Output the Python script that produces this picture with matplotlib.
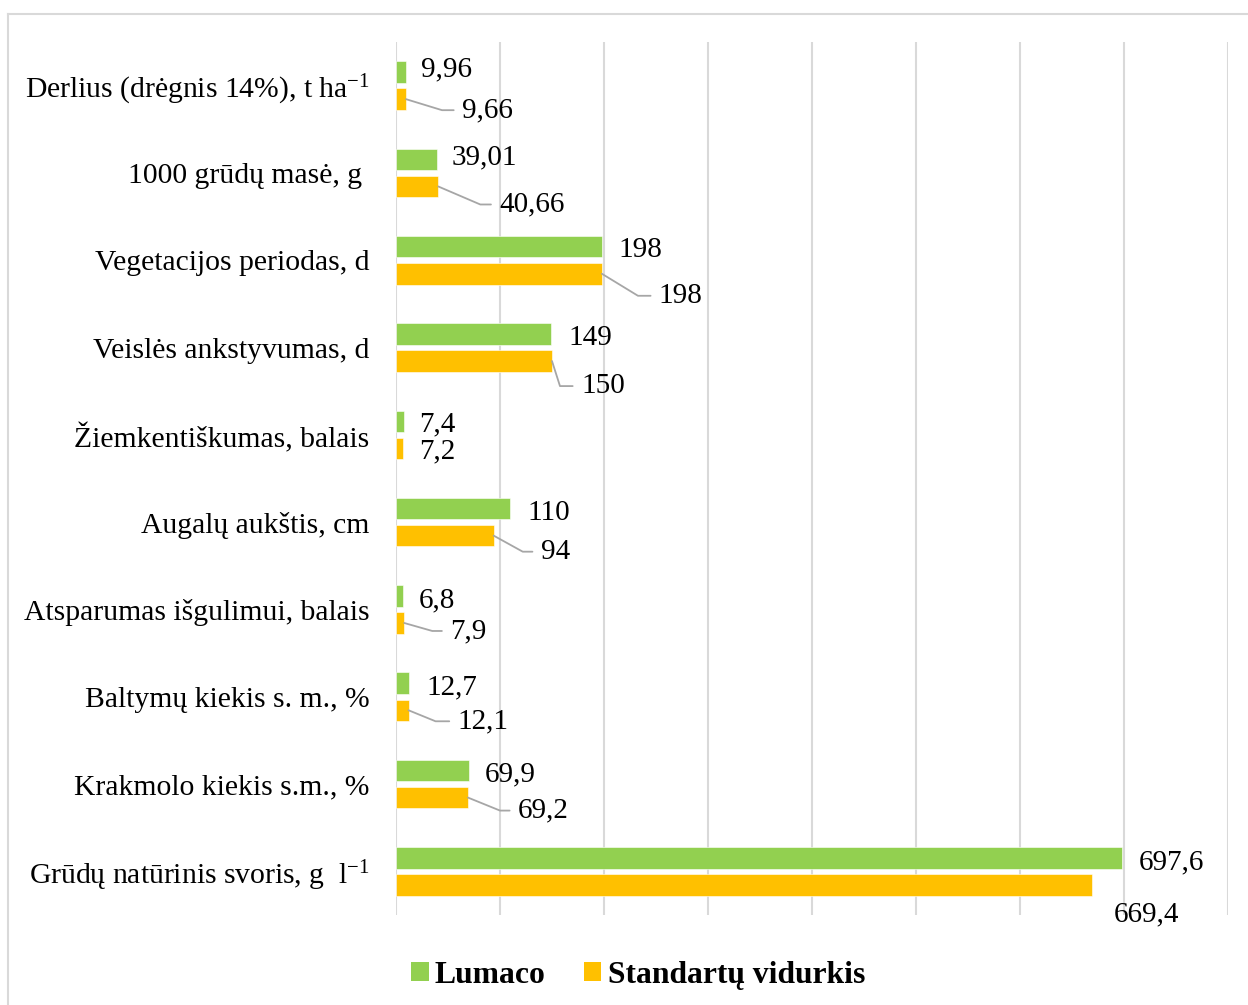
import math
import matplotlib
matplotlib.use("Agg")
import matplotlib.pyplot as plt
from matplotlib.patches import Patch
from matplotlib.lines import Line2D

plt.rcParams['font.family'] = ['Liberation Serif', 'DejaVu Serif']
plt.rcParams['mathtext.fontset'] = 'custom'
plt.rcParams['mathtext.rm'] = 'Liberation Serif'
plt.rcParams['mathtext.default'] = 'regular'

# data (top to bottom)
categories = [
    "Derlius (drėgnis 14%), t ha$^{\u2212 1}$",
    "1000 grūdų masė, g ",
    "Vegetacijos periodas, d",
    "Veislės ankstyvumas, d",
    "Žiemkentiškumas, balais",
    "Augalų aukštis, cm",
    "Atsparumas išgulimui, balais",
    "Baltymų kiekis s. m., %",
    "Krakmolo kiekis s.m., %",
    "Grūdų natūrinis svoris, g  l$^{\u2212 1}$",
]
lumaco = [9.96, 39.01, 198, 149, 7.4, 110, 6.8, 12.7, 69.9, 697.6]
standartai = [9.66, 40.66, 198, 150, 7.2, 94, 7.9, 12.1, 69.2, 669.4]
lumaco_txt = ["9,96", "39,01", "198", "149", "7,4", "110", "6,8", "12,7", "69,9", "697,6"]
standartai_txt = ["9,66", "40,66", "198", "150", "7,2", "94", "7,9", "12,1", "69,2", "669,4"]
series_names = ["Lumaco", "Standartų vidurkis"]

# label placement (pixels: dx right, dy down) and leader corner dx
green_off = [(15, -3), (15, -2), (17, 3), (17, 4), (15, 3), (17, 4), (16, 4), (17, 4), (16, 4), (17, 5)]
orange_off = [(56, 11), (61, 18), (57, 22), (29, 25), (16, 3), (47, 16), (46, 8), (49, 11), (50, 13), (22, 29)]
leader_dx = [36, 42, 36, 8, None, 29, 28, 27, 32, None]

green = "#92D050"
orange = "#FFC000"
grid_c = "#D9D9D9"
lead_c = "#A6A6A6"

fig = plt.figure(figsize=(12.48, 10.05), dpi=100)
ax = fig.add_axes([396 / 1248, 90 / 1005, 832 / 1248, 873 / 1005])

n = len(categories)
h = 0.246
off = 0.155
ypos = list(range(n))
ax.barh([y - off for y in ypos], lumaco, height=h, color=green, edgecolor="white", linewidth=0.4, zorder=2)
ax.barh([y + off for y in ypos], standartai, height=h, color=orange, edgecolor="white", linewidth=0.4, zorder=2)

ax.set_xlim(0, 800)
ax.set_ylim(n - 0.5, -0.5)
ax.set_xticks(range(0, 801, 100))
ax.set_xticklabels([])
ax.tick_params(axis="x", length=0)
ax.tick_params(axis="y", length=0, pad=19, labelsize=21.3)
ax.set_yticks(ypos)
ax.set_yticklabels(categories)
ax.grid(axis="x", color=grid_c, linewidth=1.5, zorder=0)
for s in ax.spines.values():
    s.set_visible(False)

fs = 21
for i in range(n):
    dx, dy = green_off[i]
    ax.annotate(lumaco_txt[i], xy=(lumaco[i], i - off), xytext=(dx, -dy),
                textcoords="offset pixels", ha="left", va="center", fontsize=fs)
    dx, dy = orange_off[i]
    kw = {}
    if leader_dx[i] is not None:
        ang = math.degrees(math.atan2(-dy, leader_dx[i]))
        kw["arrowprops"] = dict(arrowstyle="-", color=lead_c, lw=1.3, shrinkA=4, shrinkB=0,
                                relpos=(0, 0.5),
                                connectionstyle="angle,angleA=0,angleB=%.1f,rad=0" % ang)
    ax.annotate(standartai_txt[i], xy=(standartai[i], i + off), xytext=(dx, -dy),
                textcoords="offset pixels", ha="left", va="center", fontsize=fs, **kw)

# outer frame
fx = 8 / 1248
fy = 1 - 14 / 1005
fig.add_artist(Line2D([fx, fx], [0, fy], transform=fig.transFigure, color=grid_c, lw=1.5))
fig.add_artist(Line2D([fx, 1], [fy, fy], transform=fig.transFigure, color=grid_c, lw=1.5))

handles = [Patch(facecolor=green), Patch(facecolor=orange)]
fig.legend(handles, series_names, loc="center", bbox_to_anchor=(638 / 1248, 1 - 975 / 1005),
           ncol=2, frameon=False, prop={"weight": "bold", "size": 22.8},
           handlelength=0.55, handleheight=0.55, handletextpad=0.2, columnspacing=1.2)

fig.savefig("out.png", dpi=100)
